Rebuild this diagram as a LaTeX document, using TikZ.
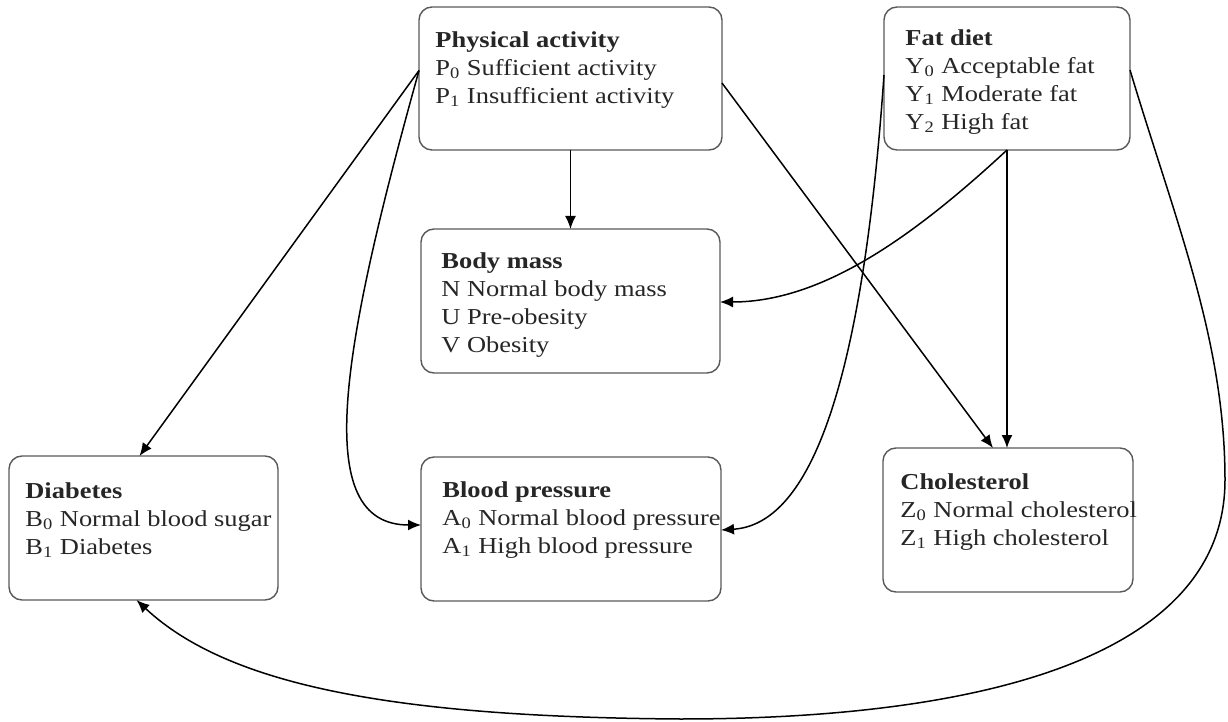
\documentclass[tikz,border=0pt]{standalone}
\usepackage{fontspec}
\setmainfont{Liberation Serif}[FakeStretch=1.16]
\usetikzlibrary{calc,arrows.meta}

\tikzset{
	box/.style={draw=black!65, line width=0.7pt, rounded corners=6.5pt,
		inner sep=0pt, outer sep=0pt},
	txt/.style={anchor=north west, inner sep=0pt, align=left, text=black!85,
		font=\fontsize{11.4}{14}\selectfont},
	link/.style={->, line width=0.75pt}
}

\begin{document}
\begin{tikzpicture}[x=0.5pt, y=-0.5pt, >={Latex[length=6.5pt,width=5.5pt]}]
	\useasboundingbox (0,0) rectangle (1228,722);

	% boxes
	\node [box, minimum width=151.5pt, minimum height=71.5pt] (pa) at (570.5,78.5) {};
	\node [box, minimum width=123pt, minimum height=71.5pt] (fd) at (1007,78.5) {};
	\node [box, minimum width=149.5pt, minimum height=72pt] (bm) at (570.5,301) {};
	\node [box, minimum width=150pt, minimum height=72pt] (bp) at (571,529) {};
	\node [box, minimum width=125pt, minimum height=72pt] (ch) at (1008,520) {};
	\node [box, minimum width=134.5pt, minimum height=72pt] (db) at (143.5,528) {};

	% texts
	\node [txt] (pa-txt) at ($(pa.north west)+(16,24)$)
		{\textbf{Physical activity}\\P\textsubscript{0} Sufficient activity\\P\textsubscript{1} Insufficient activity};
	\node [txt] (fd-txt) at ($(fd.north west)+(21,22)$)
		{\textbf{Fat diet}\\Y\textsubscript{0} Acceptable fat\\Y\textsubscript{1} Moderate fat\\Y\textsubscript{2} High fat};
	\node [txt] (bm-txt) at ($(bm.north west)+(20,23)$)
		{\textbf{Body mass}\\N Normal body mass\\U Pre-obesity\\V Obesity};
	\node [txt] (bp-txt) at ($(bp.north west)+(21,24)$)
		{\textbf{Blood pressure}\\A\textsubscript{0} Normal blood pressure\\A\textsubscript{1} High blood pressure};
	\node [txt] (ch-txt) at ($(ch.north west)+(17,25)$)
		{\textbf{Cholesterol}\\Z\textsubscript{0} Normal cholesterol\\Z\textsubscript{1} High cholesterol};
	\node [txt] (db-txt) at ($(db.north west)+(16,26)$)
		{\textbf{Diabetes}\\B\textsubscript{0} Normal blood sugar\\B\textsubscript{1} Diabetes};

	% links from physical activity
	\draw [link] ($(pa.west)+(0,-8)$) -- ($(db.north)+(-4,0)$);
	\draw [link] ($(pa.west)+(0,-8)$) .. controls +(-78,280) and +(-111,0) .. ($(bp.west)+(0,-4)$);
	\draw [link] (pa.south) -- (bm.north);
	\draw [link] ($(pa.east)+(0,4.5)$) -- ($(ch.north)+(-15,0)$);

	% links from fat diet
	\draw [link] (fd.south) -- (fd.south |- ch.north);
	\draw [link] (fd.south) .. controls +(-97,90) and +(100,0) .. ($(bm.east)+(0,1)$);
	\draw [link] ($(fd.west)+(0,-3.5)$) .. controls +(-24,345) and +(79,-5) .. ($(bp.east)+(0,1)$);
	\draw [link] ($(fd.east)+(0,-8.5)$) .. controls +(45,150) and +(0,-140) .. (1225,480)
		.. controls +(0,170) and +(320,0) .. (680,719)
		.. controls +(-280,-2) and +(93,87) .. ($(db.south)+(-7,0)$);
\end{tikzpicture}
\end{document}
